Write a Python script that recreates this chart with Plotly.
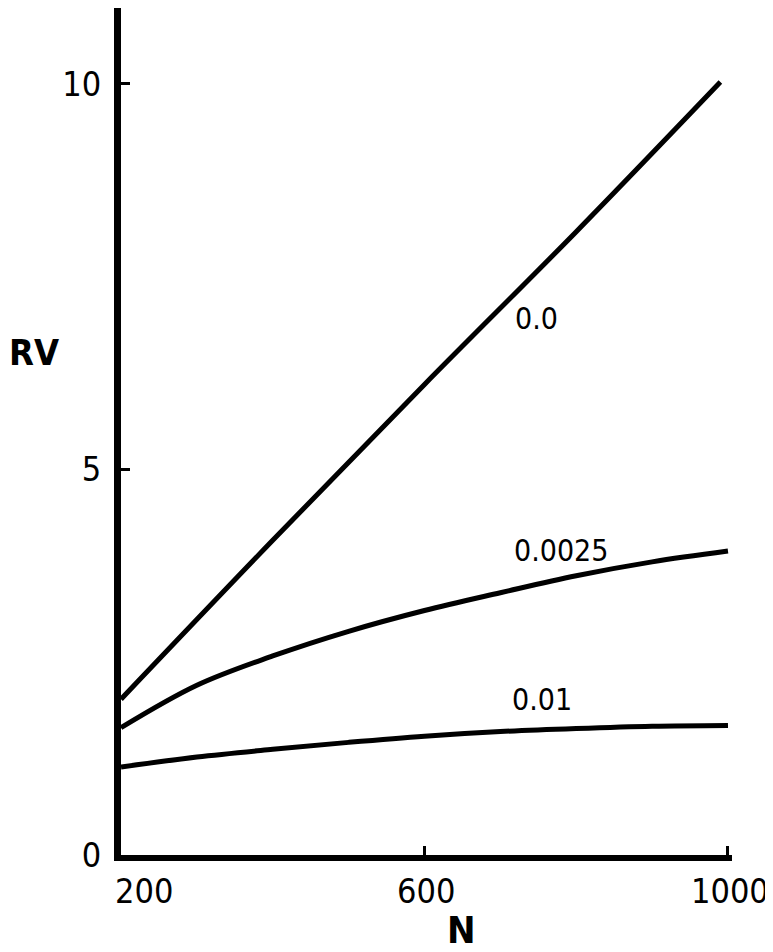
import plotly.graph_objects as go

# ---- data ----
n_00 = [200, 400, 600, 800, 990]
rv_00 = [2.02, 4.08, 6.10, 8.08, 10.02]

n_curve = [200, 300, 400, 500, 600, 700, 800, 900, 1000]
rv_0025 = [1.65, 2.20, 2.58, 2.90, 3.17, 3.40, 3.62, 3.80, 3.94]
rv_001 = [1.14, 1.27, 1.37, 1.46, 1.54, 1.60, 1.64, 1.67, 1.68]

curve_labels = ["0.0", "0.0025", "0.01"]
label_n = [747, 780, 755]
label_rv = [6.95, 3.95, 2.01]

x_ticks = [200, 600, 1000]
x_ticktext = ["200", "600", "1000"]
y_ticks = [0, 5, 10]
y_ticktext = ["0", "5", "10"]

FONT = "DejaVu Sans Condensed, DejaVu Sans, sans-serif"

fig = go.Figure()
line_style = dict(color="black", width=5, shape="spline")
fig.add_trace(go.Scatter(x=n_00, y=rv_00, mode="lines", line=line_style, hoverinfo="skip"))
fig.add_trace(go.Scatter(x=n_curve, y=rv_0025, mode="lines", line=line_style, hoverinfo="skip"))
fig.add_trace(go.Scatter(x=n_curve, y=rv_001, mode="lines", line=line_style, hoverinfo="skip"))

for txt, xv, yv in zip(curve_labels, label_n, label_rv):
    fig.add_annotation(x=xv, y=yv, text=txt, showarrow=False,
                       font=dict(family=FONT, size=30, color="black"),
                       xanchor="center", yanchor="middle")

# x tick labels (the first one sits to the right of the corner)
for i, (tv, tt) in enumerate(zip(x_ticks, x_ticktext)):
    fig.add_annotation(x=tv, y=-0.042, xref="x", yref="paper", text=tt,
                       showarrow=False,
                       font=dict(family=FONT, size=34, color="black"),
                       xanchor="left" if i == 0 else "center",
                       xshift=-8 if i == 0 else 2,
                       yanchor="middle")

# axis titles
fig.add_annotation(x=-0.142, y=6.52, xref="paper", yref="y", text="<b>RV</b>",
                   showarrow=False, font=dict(family=FONT, size=36, color="black"),
                   xanchor="center", yanchor="middle")
fig.add_annotation(x=649, y=-0.088, xref="x", yref="paper", text="<b>N</b>",
                   showarrow=False, font=dict(family=FONT, size=38, color="black"),
                   xanchor="center", yanchor="middle")

# the page body adds an 8px margin, so the figure is 8px smaller on each axis
fig.update_layout(
    width=765, height=944,
    margin=dict(l=113, r=41, t=0, b=97, pad=0),
    paper_bgcolor="white", plot_bgcolor="white",
    showlegend=False,
    xaxis=dict(range=[200, 1005.3], tickvals=x_ticks, showticklabels=False,
               showline=True, linecolor="black", linewidth=6,
               ticks="inside", ticklen=9, tickwidth=3, tickcolor="black",
               showgrid=False, zeroline=False, fixedrange=True),
    yaxis=dict(range=[0, 10.98], tickvals=y_ticks, ticktext=y_ticktext,
               showline=True, linecolor="black", linewidth=7,
               ticks="inside", ticklen=9, tickwidth=3, tickcolor="black",
               tickfont=dict(family=FONT, size=34, color="black"),
               ticklabelstandoff=6,
               showgrid=False, zeroline=False, fixedrange=True),
)

fig.write_html("out.html")
